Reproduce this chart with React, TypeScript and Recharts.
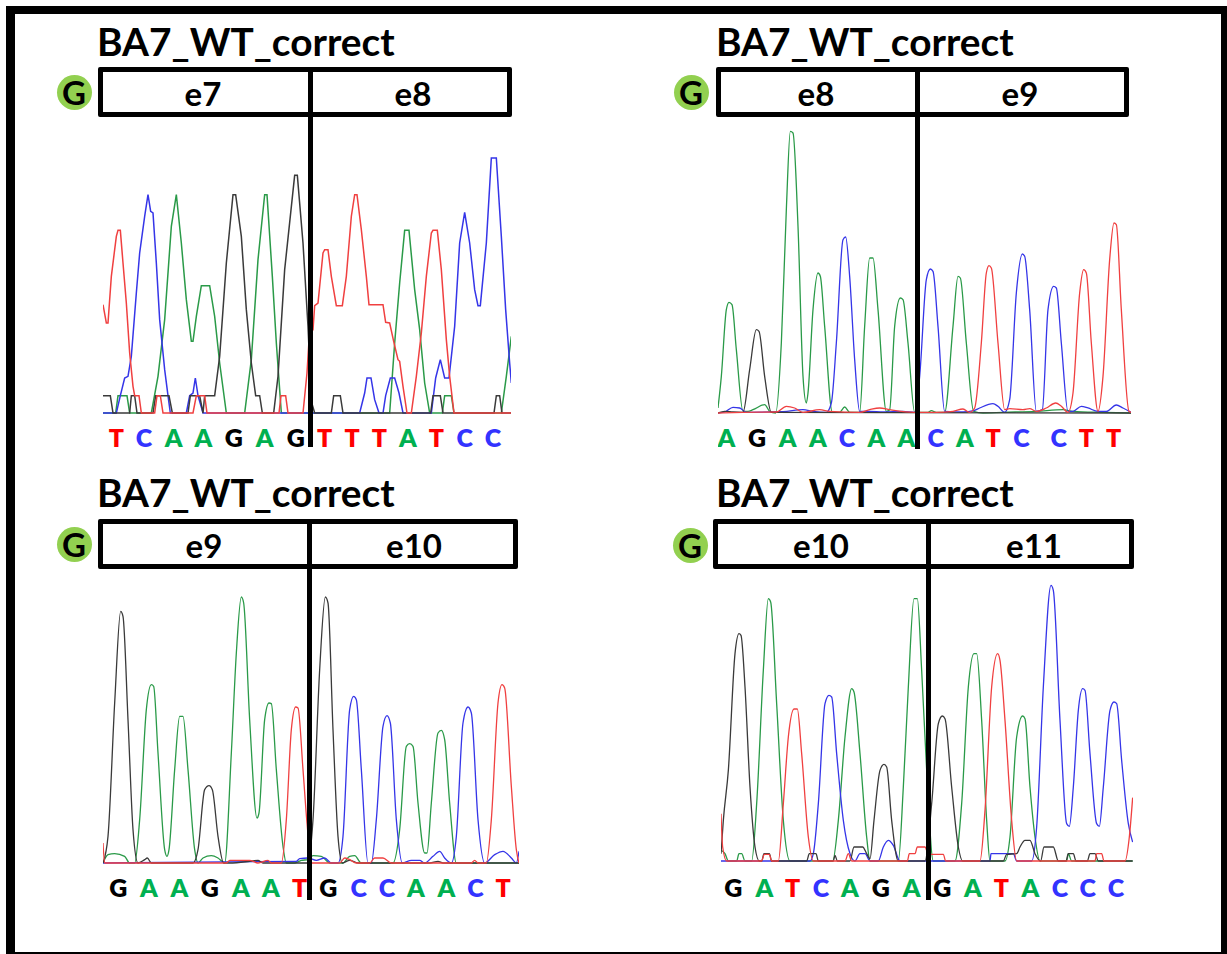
import { LineChart, Line, XAxis, YAxis } from 'recharts'

type Pt = [number, number]

// traces are [scan, signal] pairs
const e7e8Red: Pt[] = [[160,325],[170,270],[175,270],[185,410],[200,530],[205,548],[212,548],[220,450],[230,330],[240,180],[250,80],[255,52],[268,52],[275,0],[315,0],[322,52],[332,52],[340,0],[430,0],[440,52],[465,52],[472,0],[688,0],[694,52],[708,52],[715,0],[760,0],[772,120],[780,250],[790,250],[795,322],[805,330],[820,480],[825,490],[835,490],[845,410],[860,322],[878,322],[890,410],[905,590],[915,655],[922,655],[935,550],[950,410],[958,325],[1000,325],[1008,272],[1020,270],[1032,215],[1045,160],[1050,155],[1060,80],[1072,0],[1085,0],[1100,110],[1115,240],[1130,410],[1145,540],[1150,548],[1163,548],[1175,430],[1190,220],[1200,110],[1213,0],[1385,0]]
const e7e8Blue: Pt[] = [[160,0],[200,0],[212,52],[225,105],[235,110],[245,170],[260,360],[270,480],[285,590],[295,655],[303,605],[310,600],[320,450],[330,280],[345,130],[355,52],[362,0],[410,0],[420,52],[430,60],[437,105],[445,52],[460,0],[930,0],[945,60],[952,105],[964,105],[975,40],[988,0],[1000,0],[1008,52],[1022,105],[1035,105],[1048,60],[1060,0],[1145,0],[1158,105],[1172,160],[1185,105],[1198,105],[1215,260],[1230,510],[1245,602],[1260,510],[1275,370],[1285,322],[1292,322],[1310,510],[1325,765],[1340,765],[1355,530],[1368,310],[1380,150],[1385,90]]
const e7e8Green: Pt[] = [[160,0],[198,0],[205,52],[232,52],[240,0],[305,0],[325,110],[345,280],[365,560],[380,655],[395,510],[410,340],[425,215],[430,215],[440,290],[455,382],[480,382],[495,290],[510,150],[530,0],[585,0],[605,160],[625,460],[645,655],[652,655],[668,410],[680,210],[695,0],[1020,0],[1035,210],[1050,390],[1065,548],[1078,548],[1095,370],[1110,250],[1125,90],[1140,0],[1178,0],[1185,52],[1205,52],[1213,0],[1355,0],[1370,110],[1385,230]]
const e7e8Black: Pt[] = [[160,52],[182,52],[190,0],[240,0],[245,52],[255,52],[262,0],[310,0],[318,52],[358,52],[368,0],[415,0],[422,52],[450,52],[460,0],[465,52],[495,52],[510,170],[530,450],[550,655],[558,655],[575,530],[590,310],[605,150],[618,52],[630,52],[638,0],[672,0],[685,110],[705,430],[735,713],[743,713],[760,510],[775,260],[785,35],[795,0],[845,0],[852,52],[872,52],[880,0],[1143,0],[1150,52],[1172,52],[1180,0],[1333,0],[1340,52],[1350,52],[1357,0],[1385,0]]

const e8e9Green: Pt[] = [[145,15],[155,110],[170,310],[178,332],[187,325],[200,190],[220,5],[235,5],[250,10],[285,25],[300,5],[318,0],[335,210],[350,610],[362,845],[370,840],[385,560],[400,110],[410,30],[415,60],[430,310],[445,420],[452,410],[465,260],[488,2],[510,2],[525,18],[540,2],[570,2],[585,260],[600,465],[610,465],[625,310],[650,5],[660,10],[675,260],[692,345],[700,340],[715,210],[735,2],[775,2],[785,7],[800,2],[825,2],[850,260],[865,410],[872,405],[890,210],[912,5],[940,0],[1000,2],[1100,5],[1180,10],[1210,5],[1300,2],[1385,0]]
const e8e9Blue: Pt[] = [[145,0],[165,3],[190,17],[210,15],[230,2],[340,4],[400,10],[430,5],[470,2],[485,30],[500,210],[520,520],[528,528],[540,410],[555,160],[570,5],[600,5],[640,3],[700,5],[735,2],[750,110],[770,400],[782,432],[790,425],[805,260],[825,5],[880,3],[912,7],[930,15],[970,28],[985,20],[1005,2],[1020,40],[1040,360],[1058,477],[1065,470],[1080,310],[1100,5],[1118,10],[1135,310],[1152,380],[1160,375],[1175,210],[1195,5],[1210,5],[1235,20],[1255,15],[1285,5],[1310,5],[1340,24],[1360,15],[1385,2]]
const e8e9Red: Pt[] = [[145,0],[220,2],[320,3],[350,20],[375,15],[400,2],[450,10],[480,5],[570,2],[600,10],[630,15],[660,10],[735,2],[800,2],[850,5],[880,12],[900,2],[915,15],[935,210],[950,420],[958,442],[965,435],[985,210],[1005,10],[1020,13],[1060,10],[1080,13],[1100,5],[1130,15],[1158,30],[1175,20],[1195,2],[1210,60],[1230,360],[1242,430],[1250,420],[1265,210],[1285,5],[1300,110],[1320,460],[1333,570],[1340,565],[1355,310],[1378,5],[1385,2]]
const e8e9Black: Pt[] = [[145,0],[165,5],[190,3],[220,2],[240,130],[260,250],[268,245],[285,110],[305,2],[1385,0]]

const e9e10Black: Pt[] = [[160,0],[175,80],[195,480],[213,755],[220,740],[235,430],[250,100],[265,0],[285,10],[293,15],[305,0],[430,0],[445,40],[465,220],[478,232],[488,220],[505,80],[522,0],[540,0],[600,5],[625,8],[640,0],[775,0],[790,130],[810,580],[827,798],[835,780],[850,400],[865,80],[878,0],[900,8],[925,0],[1140,0],[1165,5],[1180,0],[1408,0]]
const e9e10Green: Pt[] = [[160,0],[175,25],[195,28],[225,20],[240,0],[255,0],[270,130],[290,460],[305,535],[312,530],[325,330],[345,40],[352,20],[358,40],[375,280],[390,440],[400,440],[415,280],[435,40],[445,0],[460,15],[485,22],[505,15],[525,0],[545,330],[560,630],[575,798],[582,780],[600,430],[622,135],[628,150],[645,430],[658,480],[665,478],[680,280],[700,50],[710,0],[735,0],[755,8],[775,10],[790,22],[815,20],[840,0],[880,0],[900,20],[915,22],[935,0],[1030,0],[1050,100],[1070,350],[1080,358],[1090,350],[1105,180],[1125,30],[1132,30],[1145,180],[1165,390],[1175,398],[1185,370],[1200,180],[1220,0],[1408,0]]
const e9e10Blue: Pt[] = [[160,0],[740,5],[750,13],[775,15],[800,8],[825,15],[845,0],[865,0],[880,80],[900,460],[912,500],[920,490],[935,280],[955,0],[965,0],[980,130],[1000,410],[1012,442],[1022,420],[1040,130],[1058,0],[1085,8],[1110,8],[1125,0],[1150,20],[1170,35],[1185,15],[1205,0],[1220,80],[1240,420],[1255,468],[1265,450],[1285,130],[1305,0],[1335,25],[1360,35],[1385,15],[1400,0],[1408,35]]
const e9e10Red: Pt[] = [[160,60],[165,0],[530,0],[540,8],[600,8],[625,0],[655,8],[665,0],[695,0],[710,130],[725,400],[738,468],[745,465],[760,280],[772,120],[785,0],[870,0],[885,15],[900,10],[920,0],[960,0],[975,15],[1000,15],[1025,0],[1265,0],[1275,8],[1285,0],[1310,0],[1325,130],[1345,480],[1357,535],[1365,525],[1385,230],[1400,40],[1408,0]]

const e10e11Black: Pt[] = [[153,22],[160,122],[175,272],[195,622],[207,682],[213,677],[225,522],[240,222],[255,42],[268,0],[275,0],[282,22],[298,22],[305,0],[410,0],[418,22],[438,22],[445,0],[490,0],[495,17],[502,0],[540,0],[552,42],[578,42],[590,22],[600,7],[612,122],[630,272],[642,290],[650,282],[665,122],[685,0],[765,0],[785,172],[805,412],[817,435],[825,427],[845,222],[865,42],[878,0],[1000,0],[1010,20],[1040,22],[1050,42],[1065,62],[1080,62],[1095,22],[1112,0],[1122,42],[1150,42],[1165,0],[1188,0],[1195,22],[1210,22],[1218,0],[1252,0],[1260,22],[1275,22],[1285,0],[1388,0]]
const e10e11Green: Pt[] = [[153,32],[165,22],[175,0],[200,0],[207,22],[215,22],[225,0],[245,0],[260,172],[280,572],[295,787],[302,777],[320,472],[340,122],[360,0],[488,0],[505,122],[525,372],[545,517],[552,507],[570,322],[590,72],[600,0],[685,0],[700,222],[715,522],[732,787],[742,787],[755,572],[770,272],[790,0],[855,0],[875,172],[895,522],[912,622],[920,622],[935,422],[950,122],[960,0],[1005,0],[1020,72],[1040,372],[1058,435],[1065,427],[1080,222],[1095,72],[1110,0],[1190,0],[1195,22],[1205,0],[1388,0]]
const e10e11Blue: Pt[] = [[153,0],[420,0],[430,22],[445,172],[465,472],[477,497],[485,492],[500,322],[520,122],[540,22],[555,0],[570,22],[585,22],[600,0],[625,0],[640,42],[655,62],[670,47],[690,0],[960,0],[963,22],[1030,22],[1040,0],[1085,0],[1100,102],[1120,522],[1143,827],[1150,812],[1170,422],[1190,112],[1198,104],[1210,222],[1225,452],[1238,517],[1245,512],[1260,322],[1280,112],[1288,104],[1300,222],[1320,452],[1332,477],[1340,472],[1355,302],[1375,112],[1388,57]]
const e10e11Red: Pt[] = [[153,142],[158,42],[170,0],[275,0],[283,20],[298,20],[305,0],[325,0],[340,172],[355,372],[372,456],[382,456],[395,322],[415,72],[430,0],[525,0],[535,22],[545,0],[712,0],[718,22],[735,22],[742,42],[765,42],[775,20],[783,20],[820,20],[827,0],[930,0],[945,152],[965,522],[983,622],[990,602],[1005,422],[1025,122],[1040,0],[1275,0],[1280,22],[1295,22],[1302,0],[1365,0],[1378,72],[1388,190]]

// called bases and the scan where each label sits
const e7e8Bases = ['T','C','A','A','G','A','G','T','T','T','A','T','C','C']
const e7e8Calls = [200,283,372,461,552,645,738,825,907,989,1075,1160,1245,1330]
const e8e9Bases = ['A','G','A','A','C','A','A','C','A','T','C','C','T','T']
const e8e9Calls = [170,262,354,445,532,620,710,798,886,970,1055,1167,1250,1332]
const e9e10Bases = ['G','A','A','G','A','A','T','G','C','C','A','A','C','T']
const e9e10Calls = [206,298,389,480,574,664,750,836,927,1012,1099,1190,1277,1360]
const e10e11Bases = ['G','A','T','C','A','G','A','G','A','T','A','C','C','C']
const e10e11Calls = [190,283,368,453,540,632,725,817,909,994,1081,1170,1253,1338]

const TITLE = 'BA7_WT_correct'
const FONT = 'Lato, sans-serif'
const BASE_COLORS: Record<string, string> = { A: '#00b050', C: '#3333ff', G: '#000000', T: '#ff0000' }
const TRACE_COLORS = { green: '#2a9a48', blue: '#3535e8', black: '#3a3a3a', red: '#f04040' }
const TOP_SIGNAL = 900 // 300px of plot

const panels = [
  { left: ['e7', 203], right: ['e8', 413], bases: e7e8Bases, calls: e7e8Calls, red: e7e8Red, blue: e7e8Blue, green: e7e8Green, black: e7e8Black, stroke: 1.5, curve: 'linear',
    scan: [160, 1385], plotX: 103, baseline: 413, labelGap: 34, boxX: 98, boxW: 414, boxY: 67, divX: 310.5, divEnd: 447, badge: [74, 92], titleX: 97, titleBase: 56 },
  { left: ['e8', 816], right: ['e9', 1020], bases: e8e9Bases, calls: e8e9Calls, red: e8e9Red, blue: e8e9Blue, green: e8e9Green, black: e8e9Black, stroke: 1.3, curve: 'monotone',
    scan: [145, 1385], plotX: 718, baseline: 413, labelGap: 34, boxX: 716, boxW: 413, boxY: 67, divX: 917.5, divEnd: 449, badge: [691, 92], titleX: 716, titleBase: 56 },
  { left: ['e9', 204], right: ['e10', 414], bases: e9e10Bases, calls: e9e10Calls, red: e9e10Red, blue: e9e10Blue, green: e9e10Green, black: e9e10Black, stroke: 1.3, curve: 'monotone',
    scan: [160, 1408], plotX: 103, baseline: 863, labelGap: 34, boxX: 98, boxW: 420, boxY: 519, divX: 309.5, divEnd: 900, badge: [74, 544], titleX: 97, titleBase: 507 },
  { left: ['e10', 821], right: ['e11', 1034], bases: e10e11Bases, calls: e10e11Calls, red: e10e11Red, blue: e10e11Blue, green: e10e11Green, black: e10e11Black, stroke: 1.3, curve: 'monotone',
    scan: [153, 1388], plotX: 721, baseline: 861, labelGap: 36, boxX: 713, boxW: 421, boxY: 519, divX: 928.5, divEnd: 900, badge: [690, 545], titleX: 716, titleBase: 507 },
]

const toRows = (trace: Pt[]) => trace.map(([scan, signal]) => ({ scan, signal }))

function Panel({ p }: { p: (typeof panels)[number] }) {
  const width = (p.scan[1] - p.scan[0]) / 3
  const height = TOP_SIGNAL / 3
  const renderBase = (props: any) => {
    const base = p.bases[p.calls.indexOf(props.payload.value)]
    return (
      <text x={props.x} y={height + p.labelGap} textAnchor="middle" fontFamily={FONT} fontWeight={800} fontSize={25} fill={BASE_COLORS[base]}>
        {base}
      </text>
    )
  }
  const traces: [Pt[], string][] = [
    [p.green, TRACE_COLORS.green],
    [p.blue, TRACE_COLORS.blue],
    [p.black, TRACE_COLORS.black],
    [p.red, TRACE_COLORS.red],
  ]
  return (
    <>
      <div style={{ position: 'absolute', left: p.titleX, top: p.titleBase - 38, fontFamily: FONT, fontWeight: 700, fontSize: 38.8, lineHeight: '46px', color: '#000', whiteSpace: 'nowrap' }}>{TITLE}</div>
      <div style={{ position: 'absolute', left: p.boxX, top: p.boxY, width: p.boxW, height: 50, boxSizing: 'border-box', border: '5px solid #000', borderRadius: 2 }} />
      <div style={{ position: 'absolute', left: p.plotX, top: p.baseline - height }}>
        <LineChart width={width} height={height + 45} margin={{ top: 0, right: 0, bottom: 0, left: 0 }} style={{ overflow: 'visible' }}>
          <XAxis dataKey="scan" type="number" domain={p.scan} ticks={p.calls} interval={0} height={45} axisLine={false} tickLine={false} tick={renderBase} />
          <YAxis type="number" domain={[0, TOP_SIGNAL]} hide width={0} />
          {traces.map(([trace, color]) => (
            <Line key={color} data={toRows(trace)} dataKey="signal" type={p.curve as any} stroke={color} strokeWidth={p.stroke} dot={false} activeDot={false} isAnimationActive={false} />
          ))}
        </LineChart>
      </div>
      <div style={{ position: 'absolute', left: p.divX - 2.5, top: p.boxY, width: 5, height: p.divEnd - p.boxY, background: '#000' }} />
      {[p.left, p.right].map(([label, cx]) => (
        <div key={label as string} style={{ position: 'absolute', left: (cx as number) - 50, top: p.boxY + 6, width: 100, height: 40, lineHeight: '40px', textAlign: 'center', fontFamily: FONT, fontWeight: 700, fontSize: 33, color: '#000' }}>{label}</div>
      ))}
      <div style={{ position: 'absolute', left: p.badge[0] - 17.5, top: p.badge[1] - 17.5, width: 35, height: 35, borderRadius: '50%', background: '#92d050', textAlign: 'center', lineHeight: '35px', fontFamily: FONT, fontWeight: 700, fontSize: 33, color: '#000' }}>G</div>
    </>
  )
}

export default function App() {
  return (
    <div style={{ position: 'absolute', left: 0, top: 0, width: 1227, height: 954, background: '#fff', overflow: 'hidden' }}>
      <div style={{ position: 'absolute', left: 6, top: 6, width: 1221, height: 948, boxSizing: 'border-box', borderStyle: 'solid', borderColor: '#000', borderWidth: '8px 6px 2px 9px' }} />
      {panels.map((p, i) => <Panel key={i} p={p} />)}
    </div>
  )
}
